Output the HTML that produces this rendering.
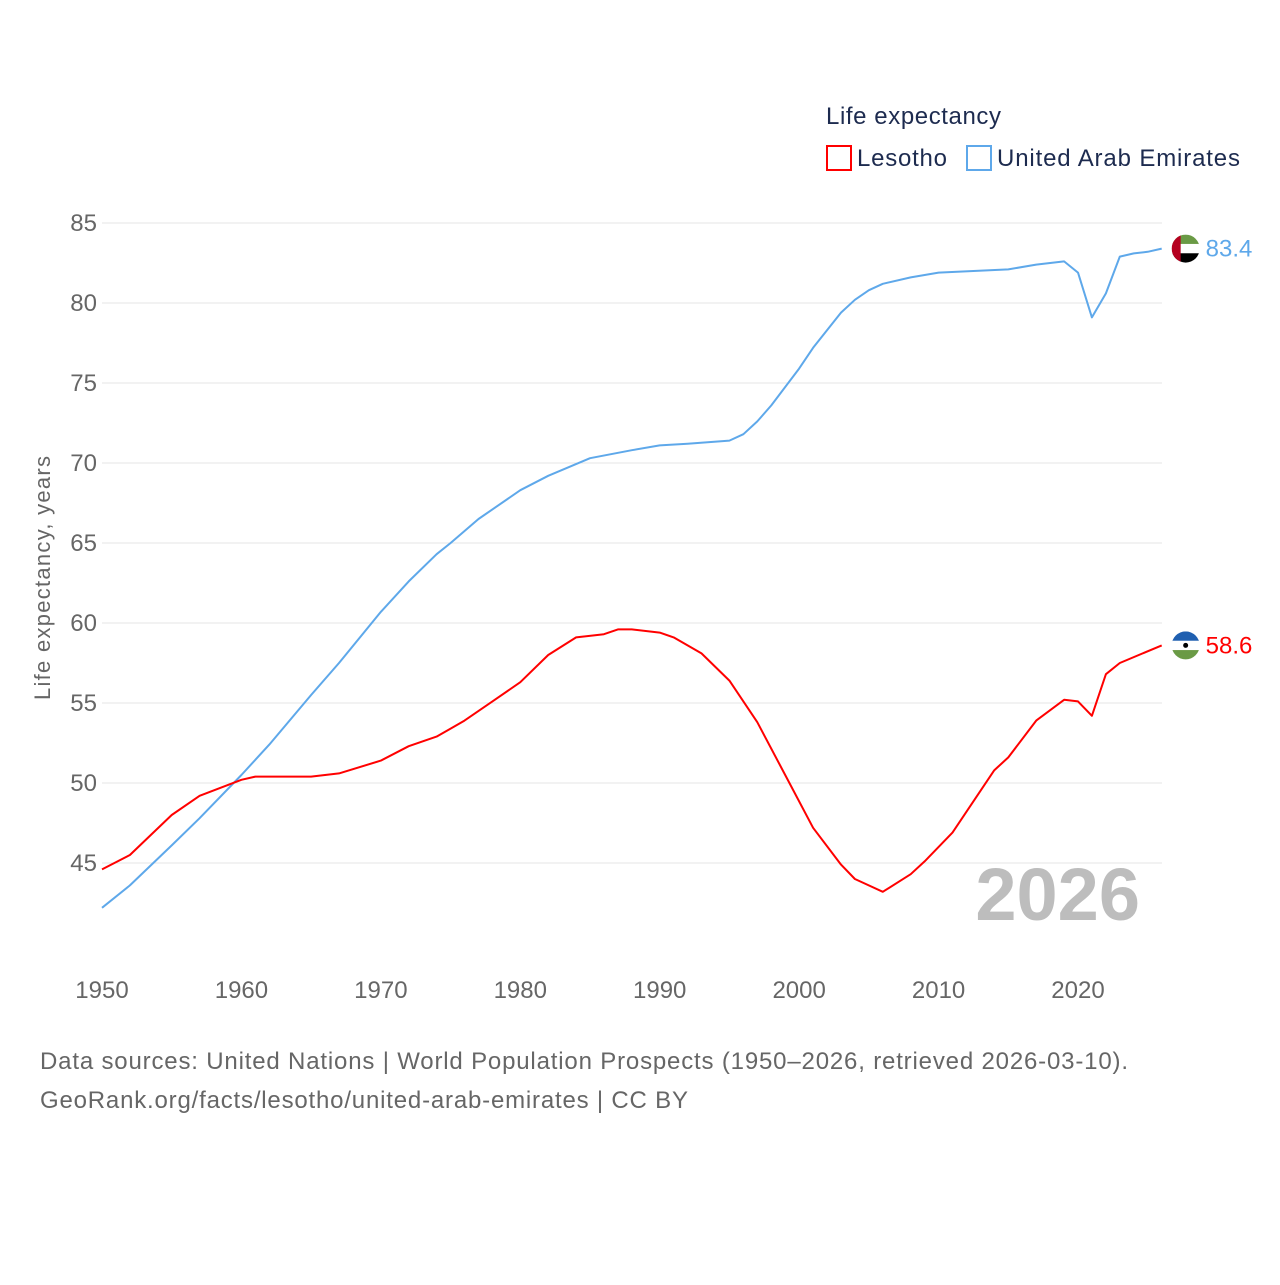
<!DOCTYPE html>
<html><head><meta charset="utf-8">
<style>
body{margin:0;background:#fff;font-family:"Liberation Sans",sans-serif}
svg text{font-family:"Liberation Sans",sans-serif}
</style></head>
<body>
<svg id="chart" width="1280" height="1280" viewBox="0 0 1280 1280" xmlns="http://www.w3.org/2000/svg">
<text x="826" y="124" font-size="24" fill="#1d2b4f" textLength="175">Life expectancy</text>
<g>
<rect x="827" y="146" width="24" height="24" fill="none" stroke="#ff0000" stroke-width="2"/>
<text x="857" y="166" font-size="24" fill="#1d2b4f" textLength="90">Lesotho</text></g>
<g>
<rect x="967" y="146" width="24" height="24" fill="none" stroke="#5ea8ea" stroke-width="2"/>
<text x="997" y="166" font-size="24" fill="#1d2b4f" textLength="243">United Arab Emirates</text></g>
<g id="grid"></g>
<text x="50" y="578" font-size="22" fill="#666" transform="rotate(-90 50 578)" text-anchor="middle" textLength="244">Life expectancy, years</text>
<text x="1140" y="920" font-size="74" font-weight="bold" fill="#bdbdbd" text-anchor="end">2026</text>
<g id="series"></g>
<text x="40" y="1069" font-size="24" fill="#666" textLength="1088">Data sources: United Nations | World Population Prospects (1950–2026, retrieved 2026-03-10).</text>
<text x="40" y="1108" font-size="24" fill="#666" textLength="648">GeoRank.org/facts/lesotho/united-arab-emirates | CC BY</text>
</svg>
<script>
const yTicks=[45,50,55,60,65,70,75,80,85];
const xTicks=[1950,1960,1970,1980,1990,2000,2010,2020];
const uaeYears=[1950,1952,1955,1957,1960,1962,1965,1967,1970,1972,1974,1975,1977,1980,1982,1985,1988,1990,1992,1995,1996,1997,1998,2000,2001,2002,2003,2004,2005,2006,2008,2010,2015,2017,2019,2020,2021,2022,2023,2024,2025,2026];
const uaeValues=[42.2,43.6,46.1,47.8,50.5,52.4,55.5,57.5,60.7,62.6,64.3,65.0,66.5,68.3,69.2,70.3,70.8,71.1,71.2,71.4,71.8,72.6,73.6,75.9,77.2,78.3,79.4,80.2,80.8,81.2,81.6,81.9,82.1,82.4,82.6,81.9,79.1,80.6,82.9,83.1,83.2,83.4];
const lesYears=[1950,1952,1955,1957,1960,1961,1965,1967,1970,1972,1974,1975,1976,1978,1980,1982,1984,1986,1987,1988,1990,1991,1993,1995,1997,1999,2001,2003,2004,2006,2008,2009,2011,2014,2015,2017,2019,2020,2021,2022,2023,2026];
const lesValues=[44.6,45.5,48.0,49.2,50.2,50.4,50.4,50.6,51.4,52.3,52.9,53.4,53.9,55.1,56.3,58.0,59.1,59.3,59.6,59.6,59.4,59.1,58.1,56.4,53.8,50.5,47.2,44.9,44.0,43.2,44.3,45.1,46.9,50.8,51.6,53.9,55.2,55.1,54.2,56.8,57.5,58.6];
const NS='http://www.w3.org/2000/svg';
const X=y=>102+(y-1950)*(976/70);
const Y=v=>223+(85-v)*16;
function mk(t,a,p){const e=document.createElementNS(NS,t);for(const k in a)e.setAttribute(k,a[k]);p.appendChild(e);return e;}
const grid=document.getElementById('grid');
yTicks.forEach(v=>{
 const l=mk('line',{x1:102,x2:1162,y1:Y(v),y2:Y(v),stroke:'#e6e6e6','stroke-width':1},grid);
 
 
 const t=mk('text',{x:97,y:Y(v)+8,'font-size':24,fill:'#666','text-anchor':'end'},grid);t.textContent=v;
 
 
});
xTicks.forEach(v=>{
 const t=mk('text',{x:X(v),y:998,'font-size':24,fill:'#666','text-anchor':'middle'},grid);t.textContent=v;
 
 
});
const s=document.getElementById('series');
function line(ys,vs,col,name){
 const d=ys.map((y,i)=>(i?'L':'M')+X(y).toFixed(1)+','+Y(vs[i]).toFixed(1)).join('');
 const p=mk('path',{d:d,fill:'none',stroke:col,'stroke-width':2,'stroke-linejoin':'round'},s);
 
 
 const lx=X(ys[ys.length-1]),ly=Y(vs[vs.length-1]);
 const t=mk('text',{x:lx+44,y:ly+8,'font-size':24,fill:col},s);t.textContent=vs[vs.length-1].toFixed(1);
 
 
 return [lx+24,ly];
}
const [ux,uy]=line(uaeYears,uaeValues,'#5ea8ea','uae');
const [lx,ly]=line(lesYears,lesValues,'#ff0000','lesotho');
function flag(cx,cy,stripes,extra,name){
 const g=mk('g',{},s);
 
 
 const id='c'+name;
 const cp=mk('clipPath',{id:id},g);mk('circle',{cx:cx,cy:cy,r:14},cp);
 const gg=mk('g',{'clip-path':'url(#'+id+')'},g);
 stripes.forEach((c,i)=>mk('rect',{x:cx-14,y:cy-14+i*28/stripes.length,width:28,height:28/stripes.length+0.5,fill:c},gg));
 if(extra)extra(gg);
}
flag(ux,uy,['#6a9a45','#ffffff','#000000'],g=>mk('rect',{x:ux-14,y:uy-14,width:9,height:28,fill:'#b5001f'},g),'uae-flag');
flag(lx,ly,['#1f5fb0','#ffffff','#6a9a45'],g=>mk('circle',{cx:lx,cy:ly,r:2.5,fill:'#000'},g),'lesotho-flag');
</script>
</body></html>
